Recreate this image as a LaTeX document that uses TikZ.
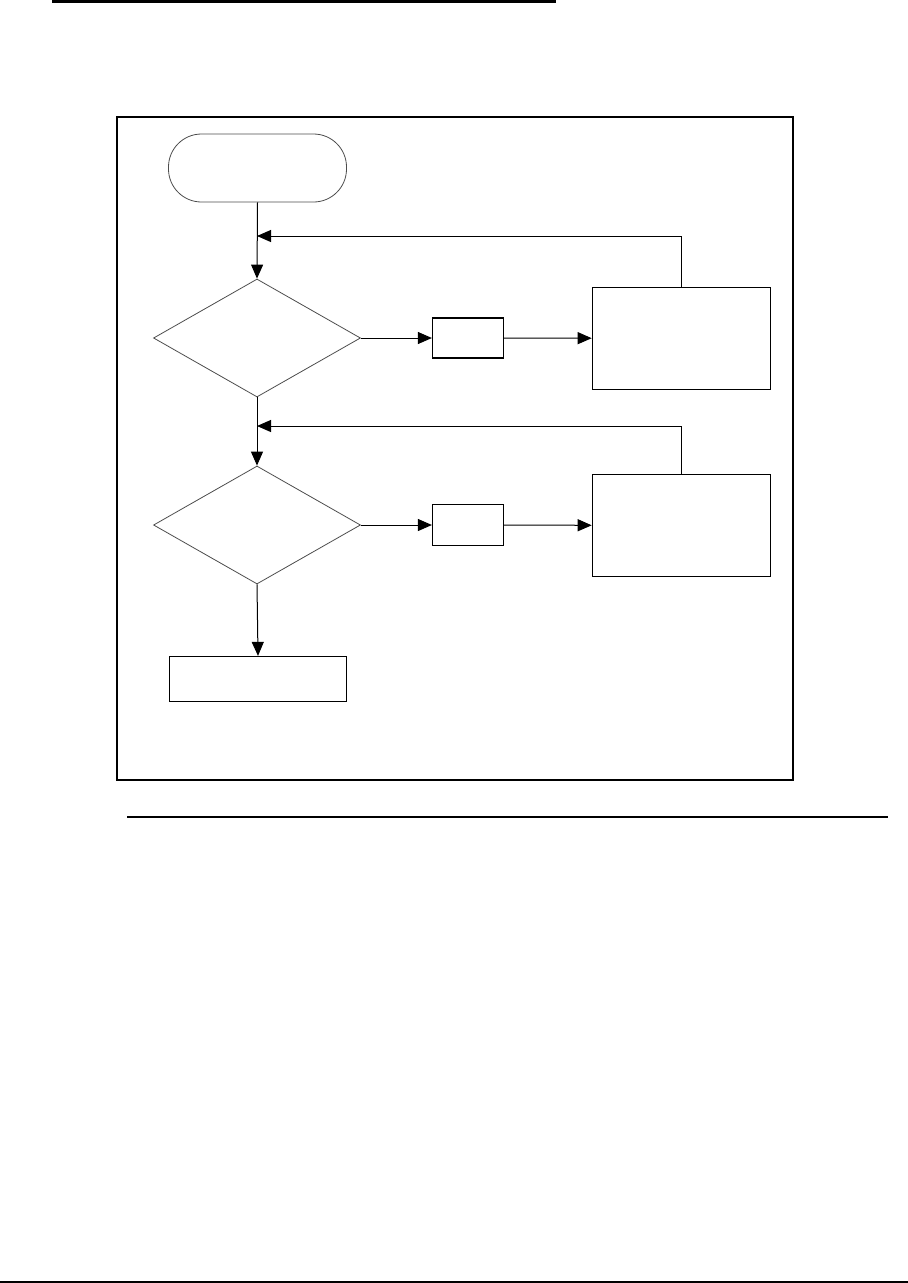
\documentclass[tikz,border=0pt]{standalone}
\usetikzlibrary{shapes.geometric,arrows.meta}
\begin{document}
\begin{tikzpicture}[x=1pt,y=-1pt,
  term/.style={draw=black!70,line width=0.8pt,rounded corners=33pt,minimum width=178pt,minimum height=68pt,inner sep=0pt},
  dia/.style={diamond,draw=black!70,line width=0.8pt,minimum width=207pt,minimum height=118pt,inner sep=0pt},
  box/.style={draw,line width=1.2pt,inner sep=0pt},
  flow/.style={line width=1pt,-{Triangle[length=14pt,width=12pt]}},
  plain/.style={line width=1pt}]
\useasboundingbox (0,0) rectangle (908,1283);
\draw[line width=3pt] (52,1.5) -- (556,1.5);
\draw[line width=2.5pt] (117,117) rectangle (793,780);
\node[term] (start) at (257.5,168) {};
\node[dia] (d1) at (257,338) {};
\node[box,minimum width=71pt,minimum height=40pt] (s1) at (468,338) {};
\node[box,minimum width=178pt,minimum height=102pt] (b1) at (681.3,338.2) {};
\coordinate (j1) at (257,236);
\node[dia] (d2) at (257,525) {};
\node[box,minimum width=71pt,minimum height=41pt] (s2) at (468,525) {};
\node[box,minimum width=178pt,minimum height=102pt] (b2) at (681.3,525.3) {};
\coordinate (j2) at (257,426);
\node[box,minimum width=177pt,minimum height=45pt] (e) at (258,679) {};
\draw[flow] (start.south) -- (d1.north);
\draw[flow] (b1.north) |- (j1);
\draw[flow] (d1.east) -- (s1.west);
\draw[flow] (s1.east) -- (b1.west);
\draw[flow] (d1.south) -- (d2.north);
\draw[flow] (b2.north) |- (j2);
\draw[flow] (d2.east) -- (s2.west);
\draw[flow] (s2.east) -- (b2.west);
\draw[flow] (d2.south) -- (e.north);
\draw[line width=1.3pt] (127,817) -- (888,817);
\draw[line width=2pt] (0,1281.5) -- (908,1281.5);
\end{tikzpicture}
\end{document}
